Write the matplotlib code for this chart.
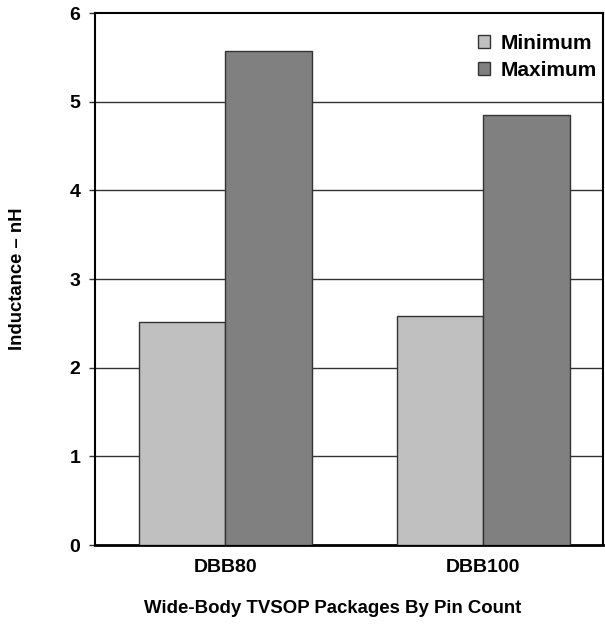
import numpy as np
import matplotlib.pyplot as plt

plt.rcParams['font.family'] = ['Liberation Sans', 'DejaVu Sans']
plt.rcParams['font.weight'] = 'bold'

packages = ['DBB80', 'DBB100']
minimum = [2.51, 2.58]
maximum = [5.57, 4.85]
yticks = [0, 1, 2, 3, 4, 5, 6]

fig = plt.figure(figsize=(6.05, 6.25), dpi=100)
ax = fig.add_axes([0.157, 0.128, 0.84, 0.851])

x = np.arange(len(packages))
w = 0.335
ax.bar(x - w / 2, minimum, w, color='#c0c0c0', edgecolor='#333333', linewidth=1.0,
       label='Minimum', zorder=3)
ax.bar(x + w / 2, maximum, w, color='#808080', edgecolor='#333333', linewidth=1.0,
       label='Maximum', zorder=3)

ax.set_xlim(-0.504, 1.465)
ax.set_ylim(0, 6)
ax.set_yticks(yticks)
ax.set_yticklabels([str(t) for t in yticks], fontsize=14, fontweight='bold')
ax.set_xticks(x)
ax.set_xticklabels(packages, fontsize=14, fontweight='bold')
ax.tick_params(axis='x', length=0, pad=10)
ax.tick_params(axis='y', length=4.5, width=1, color='#333333', pad=6)

for t in yticks[1:-1]:
    ax.axhline(t, color='#333333', linewidth=1.0, zorder=1)

for s in ['top', 'right', 'left']:
    ax.spines[s].set_linewidth(1.5)
ax.spines['bottom'].set_linewidth(2.0)

ax.set_ylabel('Inductance – nH', fontsize=13.3, fontweight='bold', labelpad=31)
ax.set_xlabel('Wide-Body TVSOP Packages By Pin Count', fontsize=13.4,
              fontweight='bold')
ax.xaxis.set_label_coords(0.467, -0.104)

ax.legend(loc='upper right', frameon=False, handlelength=0.6,
          handleheight=0.6, handletextpad=0.5, labelspacing=0.4,
          borderaxespad=0.2, bbox_to_anchor=(1.012, 0.985),
          prop={'weight': 'bold', 'size': 15})

fig.savefig('out.png', dpi=100)
